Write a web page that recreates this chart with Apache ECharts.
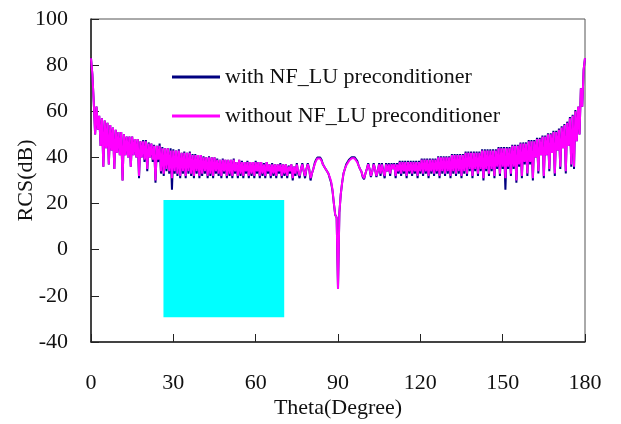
<!DOCTYPE html>
<html>
<head>
<meta charset="utf-8">
<script src="https://cdn.jsdelivr.net/npm/echarts@6/dist/echarts.min.js"></script>
<style>html,body{margin:0;padding:0;background:#fff}#c{width:621px;height:424px}</style>
</head>
<body>
<div id="c"></div>
<script>
// Sampling step of the RCS curves, degrees
const thetaStep = 0.5;
const xTicks = [0, 30, 60, 90, 120, 150, 180];
const yTicks = [-40, -20, 0, 20, 40, 60, 80, 100];
const seriesNames = ['with NF_LU preconditioner', 'without NF_LU preconditioner'];

// RCS (dB) without NF_LU preconditioner, theta = 0..180 step 0.5
const rcsWithout = [
83,76,64,50,62,52,58,45,57,36,56,
44,55,37,54,43,53,35,52,42,51,
41,51,30,50,41,49,40,49,36,49,
41,48,40,48,32,47,40,47,39,47,
35,46,40,46,39,45,30,45,39,45,
34,44,33,44,35,44,34,43,31,43,
34,43,33,43,32,42,34,42,32,42,
34,42,33,41,32,41,34,41,32,41,
33,40,34,40,32,40,33,40,32,40,
34,39,33,39,32,39,34,39,32,39,
33,39,32,39,34,38,32,39,33,38,
32,38,34,38,32,38,33,38,32,38,
34,38,32,38,33,37,32,38,34,37,
32,37,33,37,32,37,34,37,32,37,
33,37,32,36,34,37,31,36,33,37,
34,32,35,37,34,32,35,37,35,31,
33,35,37,38.5,39.5,39.8,39.5,38.5,37,36,
35,34,33,31.5,29.5,26,20,15,14,-17,
16,24,29,33,35,36.5,37.5,38.5,39.2,39.6,
39.8,39.6,39.2,38,36.5,35,34,32,31,33,
35,37,35,32,34,37,35,32,34,37,
33,37,34,32,37,34,37,33,37,35,
37,32,37,34,38,33,38,34,38,32,
38,34,38,33,38,34,38,32,38,34,
39,33,39,34,39,32,39,34,39,33,
39,34,40,32,40,34,40,33,40,34,
40,32,41,34,41,33,41,34,41,32,
41,34,42,33,42,35,42,32,42,35,
42,33,42,35,43,31,43,35,43,33,
43,35,43,32,43,36,44,33,44,36,
44,31,44,36,44,33,45,36,45,30,
45,37,46,32,46,38,46,33,47,38,
47,31,47,40,48,34,48,41,49,32,
49,41,50,35,50,42,51,33,51,43,
52,36,53,44,54,34,55,45,57,37,
58,36,60,47,62,50,70,62,78,83
];

// RCS (dB) with NF_LU preconditioner, theta = 0..180 step 0.5
const rcsWith = [
83,76,64,50,62,52,58,45,57,36,56,
44,55,37,54,43,53,35,52,42,51,
41,51,30,50,41,49,40,49,36,49,
41,48,40,48,31,47,40,47.5,38,47.5,
34,46.5,40,46,38,45.5,29,45,38,46,
33,44.5,32,44,34,44,33,44,26,43.5,
33,43,32,43.5,31,42,33,42.5,31,42,
33,42.5,32,41.5,31,41.5,33,41,31,41,
32,40.5,33,40,31,40.5,32,40,31,40,
33,39.5,32,39,31,39.5,33,39,31,39,
32,39,31,39.5,33,38,31,39,32,38.5,
31,38,33,38.5,31,38,32,38,31,38.5,
33,38,31,38,32,37.5,31,38,33,37,
31,37.5,32,37,31,37,33,37.5,31,37,
32,37,31,36.5,33,37,30,36,32,37.5,
33,31,35,37.5,34,31,35,37.5,35,30,
33,35,37.5,39,40,40.3,40,39,37,36,
35,34,33,31,29,25.5,20,15,14,-17,
16,24,29,33,35,37,38,39,39.7,40.1,
40.3,40.1,39.6,38.5,36.5,35,34,31.5,30.5,33,
35,37.5,35,31.5,34,37.5,35,31.5,34,37.5,
32,37.5,34,31,37.5,34,37.5,32,37.5,35,
37.5,31,37.5,33,38.5,32,38.5,33,38.5,31,
38.5,33,38.5,32,38.5,33,38.5,31,38.5,33,
39.5,32,39.5,33,39.5,31,39.5,33,39.5,32,
39.5,33,40.5,31,40.5,33,40.5,32,40.5,33,
40.5,31,41.5,33,41.5,32,41.5,33,41.5,31,
41.5,33,42.5,32,42.5,34,42.5,31,42.5,34,
42.5,32,42.5,34,43.5,30,43.5,34,43.5,32,
43.5,34,43.5,31,43.5,35,44.5,32,44.5,35,
44.5,26,44.5,35,44.5,32,45.5,35,45.5,29,
45.5,36,46.5,31,46.5,37,46.5,32,47.5,37,
47.5,30,47.5,40,48.5,33,48.5,41,49.5,31,
49.5,41,50.5,34,50.5,42,51.5,32,51.5,43,
52.5,35,53.5,44,54.5,33,55.5,45,57.5,36,
58.5,35,60.5,47,62,50,70,62,78,83
];

// Cyan filled box: [theta start, RCS bottom, theta end, RCS top]
const boxTheta = [26.4, 70.4];
const boxRCS = [-29.3, 21.6];

const toPairs = arr => arr.map((v, i) => [i * thetaStep, v]);
const FONT = "'Liberation Serif', 'Times New Roman', serif";

const chart = echarts.init(document.getElementById('c'), null, {renderer: 'canvas'});
chart.setOption({
  animation: false,
  backgroundColor: '#fff',
  grid: {left: 91, right: 36, top: 19, bottom: 78, show: true, borderColor: '#555', borderWidth: 1, containLabel: false},
  legend: {
    data: [{name: seriesNames[0], icon: 'rect'}, {name: seriesNames[1], icon: 'rect'}],
    orient: 'vertical',
    left: 172, top: 66, padding: 0,
    itemWidth: 48, itemHeight: 3, itemGap: 17,
    textStyle: {fontFamily: FONT, fontSize: 22, color: '#111', lineHeight: 21},
    selectedMode: false
  },
  xAxis: {
    type: 'value', min: xTicks[0], max: xTicks[xTicks.length - 1], interval: xTicks[1] - xTicks[0],
    name: 'Theta(Degree)', nameLocation: 'middle', nameGap: 55, nameMoveOverlap: false,
    nameTextStyle: {fontFamily: FONT, fontSize: 22, color: '#111'},
    axisLine: {show: true, onZero: false, lineStyle: {color: '#222', width: 1.5}},
    axisTick: {show: true, inside: true, length: 8, lineStyle: {color: '#222', width: 1}},
    axisLabel: {fontFamily: FONT, fontSize: 22, color: '#111', margin: 30},
    splitLine: {show: false}
  },
  yAxis: {
    type: 'value', min: yTicks[0], max: yTicks[yTicks.length - 1], interval: yTicks[1] - yTicks[0],
    name: 'RCS(dB)', nameLocation: 'middle', nameGap: 54, nameMoveOverlap: false,
    nameTextStyle: {fontFamily: FONT, fontSize: 22, color: '#111'},
    axisLine: {show: true, onZero: false, lineStyle: {color: '#222', width: 1.5}},
    axisTick: {show: true, inside: true, length: 8, lineStyle: {color: '#222', width: 1}},
    axisLabel: {fontFamily: FONT, fontSize: 22, color: '#111', margin: 23},
    splitLine: {show: false}
  },
  series: [
    {
      name: seriesNames[0], type: 'line', data: toPairs(rcsWith),
      symbol: 'none', color: '#000080', lineStyle: {color: '#000080', width: 2}, z: 2
    },
    {
      name: seriesNames[1], type: 'line', data: toPairs(rcsWithout),
      symbol: 'none', color: '#FF00FF', lineStyle: {color: '#FF00FF', width: 2}, z: 3
    },
    {
      type: 'custom', name: 'box', silent: true, z: 4,
      data: [[boxTheta[0], boxRCS[0], boxTheta[1], boxRCS[1]]],
      renderItem: function (params, api) {
        const a = api.coord([api.value(0), api.value(3)]);
        const b = api.coord([api.value(2), api.value(1)]);
        return {type: 'rect', shape: {x: a[0], y: a[1], width: b[0] - a[0], height: b[1] - a[1]}, style: {fill: '#00FFFF'}};
      }
    }
  ]
});
</script>
</body>
</html>
